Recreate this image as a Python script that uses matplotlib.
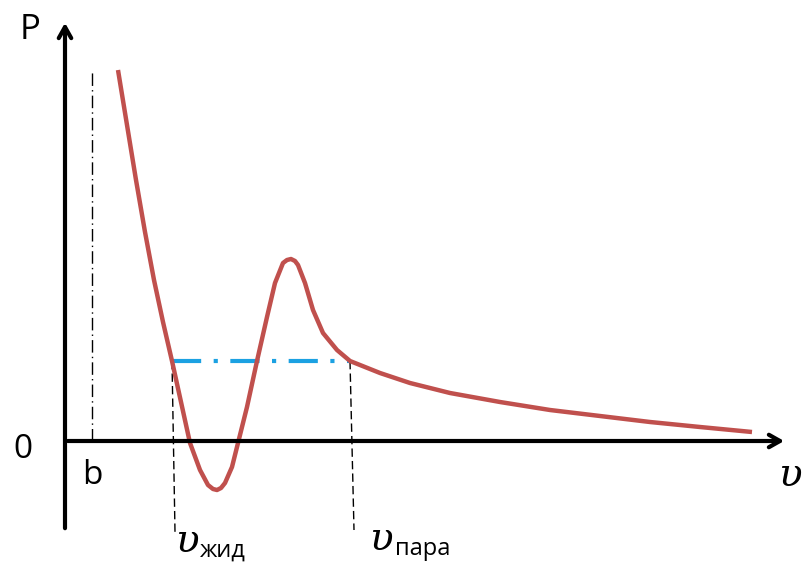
import matplotlib.pyplot as plt

# isotherm (v to the right of the origin, P above it)
v = [53, 62, 71, 80, 89, 98, 107, 116, 125, 135, 143, 148, 152, 156, 160, 167, 173,
     182, 192, 202, 210, 218, 222, 226, 230, 233, 240, 248, 258, 272, 285, 315,
     345, 385, 435, 485, 535, 585, 635, 687]
P = [371, 316, 261, 209, 161, 119, 80, 39, -2, -29, -44, -48, -49, -47, -42, -26, -2,
     34, 80, 124, 158, 178, 181, 182, 180, 176, 158, 131, 108, 91, 80, 68,
     58, 48, 39, 31, 25, 19, 14, 9]

v_liq, v_gas, P_sat = 107, 285, 80
b_pos = 27

fig = plt.figure(figsize=(8.03, 5.63), dpi=100)
ax = fig.add_axes([0, 0, 1, 1])
ax.set_xlim(-65, 738)
ax.set_ylim(-122, 441)
ax.axis('off')

# axes with arrows
ax.annotate('', xy=(722, 0), xytext=(0, 0),
            arrowprops=dict(arrowstyle='->,head_length=0.8,head_width=0.45', lw=3, color='black'))
ax.annotate('', xy=(0, 421), xytext=(0, -90),
            arrowprops=dict(arrowstyle='->,head_length=0.8,head_width=0.45', lw=3, color='black'))

# b asymptote
ax.plot([b_pos, b_pos], [0, 371], color='black', lw=1, linestyle=(0, (9, 3, 1, 3)))

# saturation line and drop lines
ax.plot([v_liq, v_gas], [P_sat, P_sat], color='#1BA1E2', lw=3, linestyle=(0, (7, 3, 1, 3)))
ax.plot([v_liq, v_liq + 3], [P_sat, -91], color='black', lw=1, linestyle=(0, (6, 3)))
ax.plot([v_gas, v_gas + 4], [P_sat, -89], color='black', lw=1, linestyle=(0, (6, 3)))

ax.plot(v, P, color='#C0504D', lw=3.2, solid_joinstyle='round', solid_capstyle='butt')

ax.text(-35, 411, 'P', fontsize=25, family='Open Sans', ha='center', va='center')
ax.text(-42, -8, '0', fontsize=24, family='Open Sans', ha='center', va='center')
ax.text(27, -35, 'b', fontsize=24, family='Open Sans', ha='center', va='center')
ax.text(725, -35, 'υ', fontsize=28, family='DejaVu Serif', style='italic', ha='center', va='center')
ax.text(110, -100, 'υ', fontsize=28, family='DejaVu Serif', style='italic', ha='left', va='center')
ax.text(135, -110, 'жид', fontsize=17, family='Open Sans', ha='left', va='center')
ax.text(304, -98, 'υ', fontsize=28, family='DejaVu Serif', style='italic', ha='left', va='center')
ax.text(330, -108, 'пара', fontsize=17, family='Open Sans', ha='left', va='center')

fig.savefig('out.png', dpi=100)
